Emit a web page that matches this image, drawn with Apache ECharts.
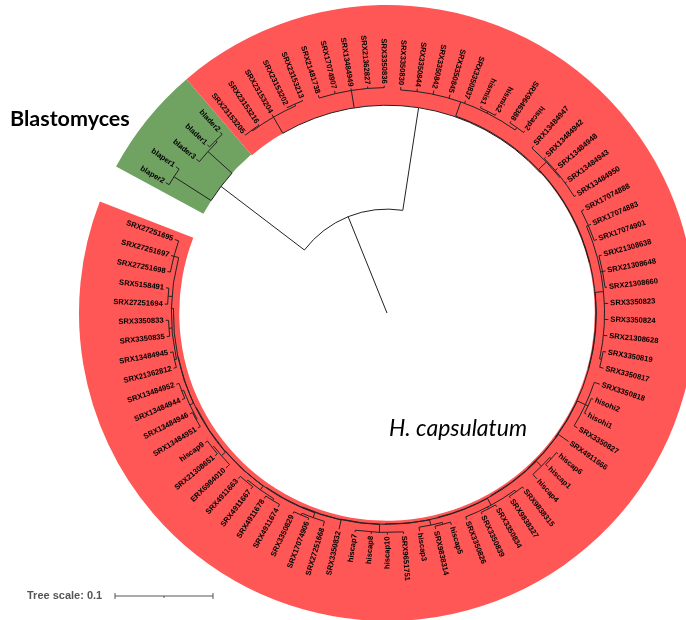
<!DOCTYPE html>
<html>
<head>
<meta charset="utf-8">
<script src="https://cdn.jsdelivr.net/npm/echarts@6/dist/echarts.min.js"></script>
<style>
  html, body { margin: 0; padding: 0; background: #ffffff; }
  #chart { width: 686px; height: 620px; }
</style>
</head>
<body>
<div id="chart"></div>
<script>
// Tip labels, clockwise from the start of the circle
const leafNames = [
  'blaper2','blaper1','blader3','blader1','blader2',
  'SRX23153205','SRX23153216','SRX23153204','SRX23153202','SRX23153213',
  'SRX21481738','SRX17074907','SRX13484949','SRX21362827','SRX3350836',
  'SRX3350830','SRX3350844','SRX3350842','SRX3350845','SRX3350837',
  'hismis1','hismis2','SRX9646388','hiscap2',
  'SRX13484947','SRX13484942','SRX13484948','SRX13484943','SRX13484950',
  'SRX17074888','SRX17074883','SRX17074901','SRX21308638','SRX21308648',
  'SRX21308660','SRX3350823','SRX3350824','SRX21308628','SRX3350819','SRX3350817',
  'SRX3350818','hisohi2','hisohi1','SRX3350827',
  'SRX4911666','hiscap6','hiscap1','hiscap4',
  'SRX9838315','SRX9838327','SRX3350834','SRX3350839','SRX3350826',
  'hiscap5','SRX9838314','hiscap3',
  'SRX9651751','hiscap10','hiscap8','hiscap7',
  'SRX3350832','SRX27251668','SRX17074906','SRX3350829',
  'SRX4911674','SRX4911678','SRX4911667','SRX4911663',
  'ERX6984010','SRX21308651','hiscap9',
  'SRX13484951','SRX13484946','SRX13484944','SRX13484952',
  'SRX21362812','SRX13484945','SRX3350835','SRX3350833',
  'SRX27251694','SRX5158491','SRX27251698','SRX27251697','SRX27251695'
];

// Distance of every tip from the root (substitutions per site)
const leafDepths = [
  0.262, 0.262, 0.250, 0.251, 0.251,
  0.233, 0.233, 0.234, 0.234, 0.234,
  0.233, 0.233, 0.232, 0.232, 0.232,
  0.231, 0.231, 0.232, 0.232, 0.231,
  0.232, 0.232, 0.233, 0.233,
  0.227, 0.227, 0.228, 0.227, 0.227,
  0.227, 0.227, 0.227, 0.227, 0.227,
  0.226, 0.226, 0.226, 0.226, 0.227, 0.228,
  0.229, 0.228, 0.228, 0.227,
  0.227, 0.226, 0.227, 0.228,
  0.227, 0.227, 0.227, 0.227, 0.226,
  0.226, 0.226, 0.225,
  0.226, 0.226, 0.226, 0.226,
  0.226, 0.227, 0.226, 0.226,
  0.227, 0.227, 0.227, 0.227,
  0.228, 0.228, 0.228,
  0.226, 0.226, 0.227, 0.227,
  0.225, 0.225, 0.226, 0.226,
  0.227, 0.227, 0.228, 0.228, 0.229
];

// Internal nodes: [first tip, last tip, distance from root]
const cladeSpans = [
  [0, 83, 0.106],
  [0, 4, 0.213], [0, 1, 0.258], [2, 4, 0.246], [3, 4, 0.248],
  [5, 83, 0.212],
  [5, 9, 0.231], [5, 6, 0.232], [8, 9, 0.233],
  [10, 14, 0.230],
  [15, 83, 0.2128],
  [15, 23, 0.228], [20, 21, 0.230], [22, 23, 0.231],
  [24, 83, 0.2132],
  [24, 28, 0.224], [25, 28, 0.225],
  [29, 83, 0.2136],
  [29, 39, 0.222], [29, 31, 0.224], [32, 34, 0.224], [38, 39, 0.224],
  [40, 83, 0.2140],
  [40, 43, 0.223], [41, 42, 0.226],
  [44, 83, 0.2144],
  [45, 83, 0.2148],
  [45, 47, 0.222], [45, 46, 0.224],
  [48, 83, 0.2152],
  [48, 52, 0.223], [48, 49, 0.225], [50, 51, 0.225],
  [53, 83, 0.2156],
  [53, 55, 0.221], [53, 54, 0.223],
  [56, 83, 0.2160],
  [56, 59, 0.224],
  [60, 83, 0.2164],
  [61, 83, 0.2168],
  [61, 63, 0.222], [62, 63, 0.224],
  [64, 83, 0.2172],
  [64, 67, 0.222], [64, 65, 0.224], [66, 67, 0.224],
  [68, 83, 0.2176],
  [68, 70, 0.223], [69, 70, 0.225],
  [71, 83, 0.2180],
  [71, 74, 0.222], [71, 72, 0.223], [73, 74, 0.224],
  [75, 83, 0.220], [75, 76, 0.222], [77, 78, 0.223], [79, 80, 0.224], [81, 83, 0.225]
];

// Coloured clades: [first tip, last tip]
const rangeGroups = [[0, 4], [5, 83]];
const rangeNames = ['Blastomyces', 'H. capsulatum'];
const treeScaleValue = 0.1;

// ---- layout and style ----
const CENTER = [387, 313];
const RADIUS_MAX = 0.32;
const POLAR_RADIUS = 313.6;
const ANGLE_START = -59.5;
const ANGLE_STEP = 4.2;
const RANGE_OUTER = 0.3143;
// tip labels read outwards between these two angles, inwards elsewhere
const LABEL_OUT_FROM = 39;
const LABEL_OUT_TO = 178;
const LABEL_GAP = 2;
const RANGE_COLORS = ['#70a262', '#ff5656'];
const LINE_COLOR = '#222222';

const norm = a => ((a % 360) + 360) % 360;
const rad = d => d * Math.PI / 180;
const leafAngle = i => ANGLE_START + i * ANGLE_STEP;

// ---- build the tree from the spans ----
const nodes = cladeSpans.map(([first, last, depth]) => ({ first, last, depth, children: [] }));
const spanSize = n => n.last - n.first;
function smallestContaining(first, last, self) {
  let best = null;
  for (const s of nodes) {
    if (s === self) continue;
    if (s.first <= first && s.last >= last && (!self || spanSize(s) > spanSize(self))) {
      if (!best || spanSize(s) < spanSize(best)) best = s;
    }
  }
  return best;
}
let root = null;
nodes.forEach(n => {
  const p = smallestContaining(n.first, n.last, n);
  if (p) p.children.push(n); else root = n;
});
leafNames.forEach((name, i) => {
  smallestContaining(i, i, null).children.push({ leaf: i, first: i, last: i, depth: leafDepths[i] });
});
function place(n) {
  if (n.leaf !== undefined) { n.angle = leafAngle(n.leaf); return; }
  n.children.sort((a, b) => a.first - b.first);
  n.children.forEach(place);
  n.angle = (n.children[0].angle + n.children[n.children.length - 1].angle) / 2;
}
place(root);

const branchData = [[0, root.depth, norm(root.angle)]];
const arcData = [];
(function collect(n) {
  if (n.leaf !== undefined) return;
  const a0 = n.children[0].angle;
  const a1 = n.children[n.children.length - 1].angle;
  arcData.push([n.depth, norm(a0), a1 - a0]);
  n.children.forEach(c => { branchData.push([n.depth, c.depth, norm(c.angle)]); collect(c); });
})(root);

const labelData = leafNames.map((name, i) => [leafDepths[i], norm(leafAngle(i)), i]);

const rangeData = rangeGroups.map(([first, last], g) => {
  const node = nodes.find(n => n.first === first && n.last === last);
  const a0 = leafAngle(first) - ANGLE_STEP / 2;
  const a1 = leafAngle(last) + ANGLE_STEP / 2;
  return [node.depth, RANGE_OUTER, norm(a0), a1 - a0, g];
});

function radiusPx(cs, api, depth, angle) {
  const p = api.coord([depth, angle]);
  return Math.hypot(p[0] - cs.cx, p[1] - cs.cy);
}

const chart = echarts.init(document.getElementById('chart'), null, { renderer: 'canvas' });
const scalePx = treeScaleValue * POLAR_RADIUS / RADIUS_MAX;
const scaleX = 115, scaleY = 596;

chart.setOption({
  animation: false,
  backgroundColor: '#ffffff',
  polar: { center: CENTER, radius: POLAR_RADIUS },
  angleAxis: { type: 'value', min: 0, max: 360, startAngle: 90, clockwise: true, show: false },
  radiusAxis: { type: 'value', min: 0, max: RADIUS_MAX, show: false },
  series: [
    {
      type: 'custom', coordinateSystem: 'polar', silent: true, z: 1,
      encode: { radius: [0, 1], angle: 2 },
      data: rangeData,
      renderItem: (params, api) => {
        const cs = params.coordSys;
        const a0 = api.value(2), span = api.value(3);
        return {
          type: 'sector',
          shape: {
            cx: cs.cx, cy: cs.cy,
            r0: radiusPx(cs, api, api.value(0), a0),
            r: radiusPx(cs, api, api.value(1), a0),
            startAngle: rad(a0 - 90), endAngle: rad(a0 + span - 90), clockwise: true
          },
          style: { fill: RANGE_COLORS[api.value(4)] }
        };
      }
    },
    {
      type: 'custom', coordinateSystem: 'polar', silent: true, z: 2,
      encode: { radius: 0, angle: 1 },
      data: arcData,
      renderItem: (params, api) => {
        const cs = params.coordSys;
        const a0 = api.value(1), span = api.value(2);
        return {
          type: 'arc',
          shape: {
            cx: cs.cx, cy: cs.cy, r: radiusPx(cs, api, api.value(0), a0),
            startAngle: rad(a0 - 90), endAngle: rad(a0 + span - 90), clockwise: true
          },
          style: { stroke: LINE_COLOR, fill: null, lineWidth: 1 }
        };
      }
    },
    {
      type: 'custom', coordinateSystem: 'polar', silent: true, z: 3,
      encode: { radius: [0, 1], angle: 2 },
      data: branchData,
      renderItem: (params, api) => {
        const a = api.value(2);
        const p0 = api.coord([api.value(0), a]);
        const p1 = api.coord([api.value(1), a]);
        return {
          type: 'line',
          shape: { x1: p0[0], y1: p0[1], x2: p1[0], y2: p1[1] },
          style: { stroke: LINE_COLOR, lineWidth: 1 }
        };
      }
    },
    {
      type: 'custom', coordinateSystem: 'polar', silent: true, z: 4,
      encode: { radius: 0, angle: 1 },
      data: labelData,
      renderItem: (params, api) => {
        const a = api.value(1);
        const p = api.coord([api.value(0), a]);
        const t = rad(a);
        const outward = a > LABEL_OUT_FROM && a < LABEL_OUT_TO;
        const phi = rad(a - 90);
        return {
          type: 'text',
          x: p[0] + Math.sin(t) * LABEL_GAP,
          y: p[1] - Math.cos(t) * LABEL_GAP,
          rotation: outward ? -phi : Math.PI - phi,
          style: {
            text: leafNames[api.value(2)],
            fill: '#000000',
            fontSize: 7.6,
            fontWeight: 'bold',
            fontFamily: 'Liberation Sans, Arial, sans-serif',
            align: outward ? 'left' : 'right',
            verticalAlign: 'middle'
          }
        };
      }
    }
  ],
  graphic: [
    {
      type: 'text', left: 10, top: 108,
      style: { text: rangeNames[0], fontFamily: 'Lato, sans-serif', fontWeight: 'bold', fontSize: 21.5, fill: '#000000' }
    },
    {
      type: 'text', left: 389, top: 417,
      style: { text: rangeNames[1], fontFamily: 'Lato, sans-serif', fontStyle: 'italic', fontSize: 23, fill: '#000000' }
    },
    {
      type: 'text', x: 27, y: scaleY,
      style: { text: 'Tree scale: ' + treeScaleValue, fontFamily: 'Liberation Sans, Arial, sans-serif', fontWeight: 'bold', fontSize: 11, fill: '#555555', verticalAlign: 'middle' }
    },
    {
      type: 'group', x: scaleX, y: scaleY,
      children: [
        { type: 'line', shape: { x1: 0, y1: 0, x2: scalePx, y2: 0 }, style: { stroke: '#555555', lineWidth: 1 } },
        { type: 'line', shape: { x1: 0, y1: -3, x2: 0, y2: 3 }, style: { stroke: '#555555', lineWidth: 1 } },
        { type: 'line', shape: { x1: scalePx, y1: -3, x2: scalePx, y2: 3 }, style: { stroke: '#555555', lineWidth: 1 } },
        { type: 'line', shape: { x1: scalePx / 2, y1: 0, x2: scalePx / 2, y2: 2 }, style: { stroke: '#555555', lineWidth: 1 } }
      ]
    }
  ]
});
</script>
</body>
</html>
